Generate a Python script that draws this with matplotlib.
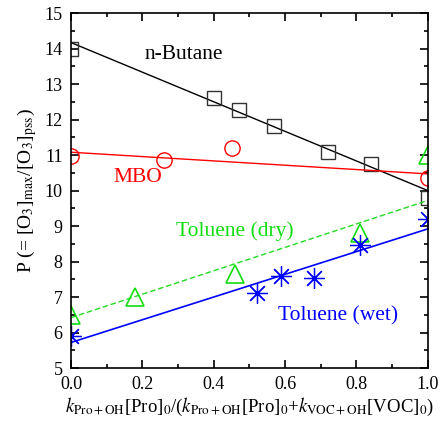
import matplotlib
matplotlib.use("Agg")
import matplotlib.pyplot as plt
import numpy as np

plt.rcParams['font.family'] = ['Liberation Serif', 'DejaVu Serif']
plt.rcParams['mathtext.fontset'] = 'stix'

# n-Butane
but_x = [0.0, 0.40, 0.47, 0.57, 0.72, 0.84, 1.0]
but_y = [14.0, 12.62, 12.28, 11.83, 11.08, 10.75, 9.8]
but_fit = [14.17, 10.0]

# MBO
mbo_x = [0.0, 0.26, 0.45, 1.0]
mbo_y = [10.97, 10.87, 11.2, 10.35]
mbo_fit = [11.08, 10.47]

# Toluene (dry)
dry_x = [0.0, 0.18, 0.46, 0.81, 1.0]
dry_y = [6.5, 7.0, 7.65, 8.8, 11.0]
dry_fit = [6.42, 9.72]

# Toluene (wet)
wet_x = [0.0, 0.52, 0.59, 0.68, 0.81, 1.0]
wet_y = [5.9, 7.12, 7.58, 7.55, 8.48, 9.2]
wet_fit = [5.72, 8.92]

fit_x = [0.0, 1.0]

fig = plt.figure(figsize=(4.41, 4.23), dpi=100)
ax = fig.add_axes([0.161, 0.130, 0.809, 0.839])

ax.plot(fit_x, but_fit, color='black', lw=1.0)
ax.plot(but_x, but_y, 's', ms=10, mfc='none', mec='#333333', mew=1.0)

ax.plot(fit_x, mbo_fit, color='red', lw=1.0)
ax.plot(mbo_x, mbo_y, 'o', ms=11, mfc='none', mec='red', mew=1.0)

ax.plot(fit_x, dry_fit, color='#22dd22', lw=1.0, ls=(0, (4, 2)))
ax.plot(dry_x, dry_y, '^', ms=13, mfc='none', mec='#11dd11', mew=1.2)

ax.plot(fit_x, wet_fit, color='blue', lw=1.2)
ax.plot(wet_x, wet_y, marker=(8, 2, 0), ls='none', ms=15, mec='blue', mew=0.9)
ax.plot(wet_x, wet_y, '.', ms=4, color='blue')

ax.text(0.205, 13.82, 'n-Butane', fontsize=15.5, va='center', ha='left')
ax.text(0.12, 10.38, 'MBO', fontsize=15.5, va='center', ha='left', color='red')
ax.text(0.295, 8.86, 'Toluene (dry)', fontsize=15.5, va='center', ha='left', color='#11dd11')
ax.text(0.58, 6.46, 'Toluene (wet)', fontsize=15.5, va='center', ha='left', color='blue')

ax.set_xlim(0, 1)
ax.set_ylim(5, 15)
ax.set_xticks(np.arange(0, 1.01, 0.2))
ax.set_xticks(np.arange(0, 1.01, 0.1), minor=True)
ax.set_yticks(np.arange(5, 15.1, 1))
ax.set_yticks(np.arange(5, 15.1, 0.5), minor=True)
ax.set_xticklabels(['0.0', '0.2', '0.4', '0.6', '0.8', '1.0'])
ax.tick_params(which='both', direction='in', top=True, right=True, labelsize=13, width=1.2)
ax.tick_params(which='major', length=6)
ax.tick_params(which='minor', length=3)
ax.tick_params(axis='x', pad=6)
ax.tick_params(axis='y', pad=6)
for s in ax.spines.values():
    s.set_linewidth(1.2)

ax.set_ylabel('P (= [O$_3$]$_{\\rm max}$/[O$_3$]$_{\\rm pss}$)', fontsize=14, labelpad=4)
ax.set_xlabel('$k_{\\rm Pro+OH}$[Pro]$_0$/($k_{\\rm Pro+OH}$[Pro]$_0$+$k_{\\rm VOC+OH}$[VOC]$_0$)',
              fontsize=13.5, labelpad=2)

fig.savefig('out.png', dpi=100)
